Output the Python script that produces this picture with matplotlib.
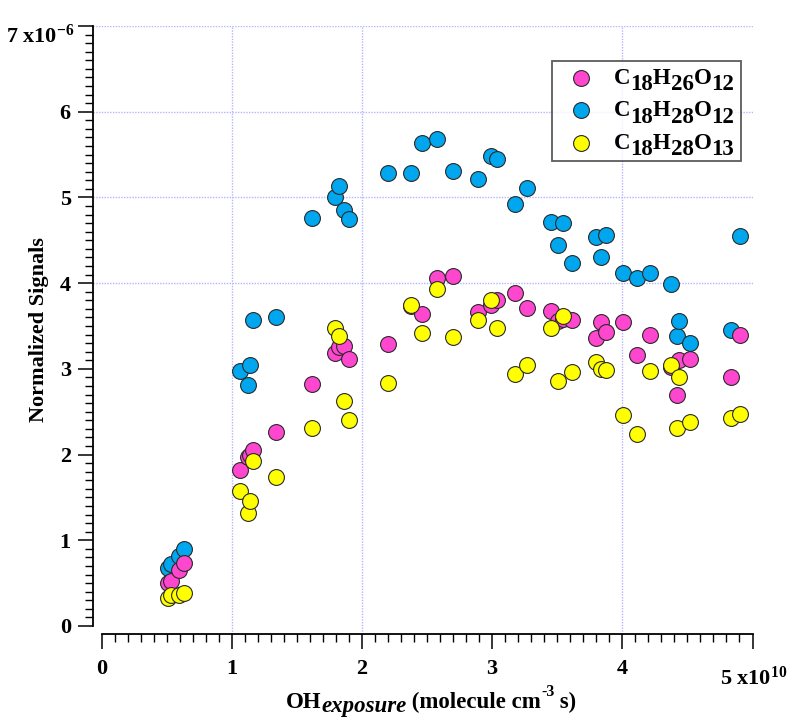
import numpy as np
import matplotlib
matplotlib.use("Agg")
import matplotlib.pyplot as plt
from matplotlib.ticker import FixedLocator

plt.rcParams['font.family'] = ['Liberation Serif', 'DejaVu Serif']
plt.rcParams['font.weight'] = 'bold'
plt.rcParams['mathtext.fontset'] = 'custom'
plt.rcParams['mathtext.rm'] = 'Liberation Serif:bold'
plt.rcParams['mathtext.bf'] = 'Liberation Serif:bold'
plt.rcParams['mathtext.it'] = 'Liberation Serif:bold:italic'

# OH exposure in units of 1e10 molecule cm^-3 s
oh_exposure = [0.513, 0.531, 0.598, 0.634, 1.064, 1.128, 1.143, 1.161, 1.338, 1.619,
               1.793, 1.822, 1.865, 1.903, 2.203, 2.377, 2.462, 2.574, 2.697, 2.889,
               2.990, 3.037, 3.176, 3.270, 3.452, 3.504, 3.547, 3.614, 3.798, 3.836,
               3.875, 4.008, 4.113, 4.215, 4.374, 4.423, 4.436, 4.522, 4.837, 4.902]
# Normalized signals in units of 1e-6
c18h26o12 = [0.50, 0.53, 0.65, 0.73, 1.82, 1.97, 2.00, 2.05, 2.26, 2.82,
             3.19, 3.26, 3.27, 3.12, 3.29, 3.73, 3.64, 4.06, 4.08, 3.66,
             3.75, 3.80, 3.88, 3.71, 3.67, 3.56, 3.58, 3.57, 3.36, 3.55,
             3.43, 3.55, 3.16, 3.40, 3.02, 2.69, 3.10, 3.12, 2.91, 3.40]
c18h28o12 = [0.68, 0.72, 0.82, 0.90, 2.98, 2.81, 3.05, 3.57, 3.60, 4.76,
             5.01, 5.13, 4.85, 4.75, 5.29, 5.29, 5.64, 5.68, 5.31, 5.22,
             5.48, 5.45, 4.92, 5.11, 4.71, 4.45, 4.70, 4.24, 4.54, 4.31,
             4.56, 4.12, 4.06, 4.12, 3.99, 3.38, 3.56, 3.30, 3.45, 4.55]
c18h28o13 = [0.33, 0.365, 0.365, 0.39, 1.58, 1.315, 1.46, 1.92, 1.735, 2.31,
             3.48, 3.38, 2.62, 2.40, 2.84, 3.75, 3.42, 3.93, 3.37, 3.57,
             3.80, 3.48, 2.94, 3.04, 3.48, 2.86, 3.62, 2.96, 3.08, 3.00,
             2.99, 2.46, 2.24, 2.97, 3.05, 2.31, 2.91, 2.38, 2.43, 2.47]

# legend formulas: (text, is_subscript)
formula_26_12 = [('C', 0), ('18', 1), ('H', 0), ('26', 1), ('O', 0), ('12', 1)]
formula_28_12 = [('C', 0), ('18', 1), ('H', 0), ('28', 1), ('O', 0), ('12', 1)]
formula_28_13 = [('C', 0), ('18', 1), ('H', 0), ('28', 1), ('O', 0), ('13', 1)]

x_ticks = [0, 1, 2, 3, 4, 5]
x_tick_labels = ['0', '1', '2', '3', '4', '']
y_ticks = [0, 1, 2, 3, 4, 5, 6, 7]
y_tick_labels = ['0', '1', '2', '3', '4', '5', '6', '']
grid_x = [1, 2, 4]
grid_y = [4, 5, 6, 7]

x = np.array(oh_exposure) * 1e10
col_pink, col_blue, col_yellow = '#FF46CE', '#00A6EE', '#FFFF00'

W, H = 788, 717
fig = plt.figure(figsize=(W / 100, H / 100), dpi=100)
L, R, B, T = 93, 752.5, 634, 26
ax = fig.add_axes([L / W, 1 - B / H, (R - L) / W, (B - T) / H])
ax.set_xlim(-8.5 / 130.2 * 1e10, 5e10)
ax.set_ylim(-8 / 85.7 * 1e-6, 7e-6)

for gx in grid_x:
    ax.axvline(gx * 1e10, color='#B4B4FF', lw=1.0, ls=(0, (1, 1)), zorder=0)
for gy in grid_y:
    ax.axhline(gy * 1e-6, color='#B4B4FF', lw=1.0, ls=(0, (1, 1)), zorder=0)

kw = dict(s=130, edgecolors='#2a2a2a', linewidths=0.8, zorder=3)
h_blue = ax.scatter(x, np.array(c18h28o12) * 1e-6, c=col_blue, **kw)
h_pink = ax.scatter(x, np.array(c18h26o12) * 1e-6, c=col_pink, **kw)
h_yel = ax.scatter(x, np.array(c18h28o13) * 1e-6, c=col_yellow, **kw)

for s in ['top', 'right']:
    ax.spines[s].set_visible(False)
ax.spines['left'].set_bounds(0, 7e-6)
ax.spines['bottom'].set_bounds(0, 5e10)
ax.spines['left'].set_linewidth(1.3)
ax.spines['bottom'].set_linewidth(1.3)

ax.xaxis.set_major_locator(FixedLocator([t * 1e10 for t in x_ticks]))
ax.set_xticklabels(x_tick_labels)
ax.xaxis.set_minor_locator(FixedLocator([i * 0.1e10 for i in range(51)]))
ax.yaxis.set_major_locator(FixedLocator([t * 1e-6 for t in y_ticks]))
ax.set_yticklabels(y_tick_labels)
ax.yaxis.set_minor_locator(FixedLocator([i * 0.1e-6 for i in range(71)]))

ax.tick_params(axis='both', which='major', direction='out', length=11, width=1.1, labelsize=16)
ax.tick_params(axis='both', which='minor', direction='out', length=6, width=1.0)
ax.tick_params(axis='x', which='major', pad=7)
ax.tick_params(axis='y', which='major', pad=5)
for lbl in ax.get_xticklabels() + ax.get_yticklabels():
    lbl.set_fontweight('bold')

fig.text(787 / W, 1 - 678 / H, r'5 x10$^{10}$', ha='right', va='center', fontsize=16, fontweight='bold')
fig.text(74 / W, 1 - 25 / H, r'7 x10$^{-6}$', ha='right', va='top', fontsize=16, fontweight='bold')

ax.set_ylabel('Normalized Signals', fontsize=16, fontweight='bold', labelpad=8)


def chain(first, parts, fontsize, zorder=10):
    """Append text pieces after `first`; parts: (text, dy_points, style, size)."""
    prev = first
    pieces = [first]
    for txt, dy, style, size in parts:
        a = ax.annotate(txt, xy=(1, 0), xycoords=(prev, first), xytext=(0, dy),
                        textcoords='offset points', ha='left', va='bottom',
                        fontsize=size or fontsize, fontweight='bold', fontstyle=style,
                        annotation_clip=False, zorder=zorder)
        pieces.append(a)
        prev = a
    return pieces


# legend with invisible placeholder labels, overlaid by formula text
leg_fs = 16.5
placeholders = [''.join(t for t, _ in f) for f in (formula_26_12, formula_28_12, formula_28_13)]
leg = ax.legend([h_pink, h_blue, h_yel], placeholders,
                loc='upper left', bbox_to_anchor=((552 - L) / (R - L), (B - 61) / (B - T)),
                borderaxespad=0, prop={'size': leg_fs, 'weight': 'bold'}, frameon=True,
                fancybox=False, handletextpad=0.42, labelspacing=0.5, borderpad=0.30,
                handlelength=1.97, scatterpoints=1)
leg.get_frame().set_edgecolor('#333333')
leg.get_frame().set_linewidth(1.3)
leg.set_zorder(5)
for t in leg.get_texts():
    t.set_alpha(0)

fig.canvas.draw()
sub_dy = -4.5
for t, f in zip(leg.get_texts(), (formula_26_12, formula_28_12, formula_28_13)):
    first = ax.annotate(f[0][0], xy=(0, 0), xycoords=t, ha='left', va='bottom',
                        fontsize=leg_fs, fontweight='bold', annotation_clip=False, zorder=10)
    chain(first, [(s, sub_dy if sub else 0, 'normal', None) for s, sub in f[1:]], leg_fs)

# x label built from pieces (full-size italic subscript)
xl_fs = 16.5
first = fig.text(0, 9 / H, 'OH', ha='left', va='baseline', fontsize=xl_fs, fontweight='bold')
pieces = chain(first, [('exposure', -3, 'italic', None),
                       (' (molecule cm', 0, 'normal', None),
                       ('-3', 9, 'normal', 11.5),
                       (' s)', 0, 'normal', None)], xl_fs)
fig.canvas.draw()
r = fig.canvas.get_renderer()
x0 = pieces[0].get_window_extent(r).x0
x1 = pieces[-1].get_window_extent(r).x1
width = x1 - x0
first.set_x((431 - width / 2) / W)

fig.savefig('out.png', dpi=100)
